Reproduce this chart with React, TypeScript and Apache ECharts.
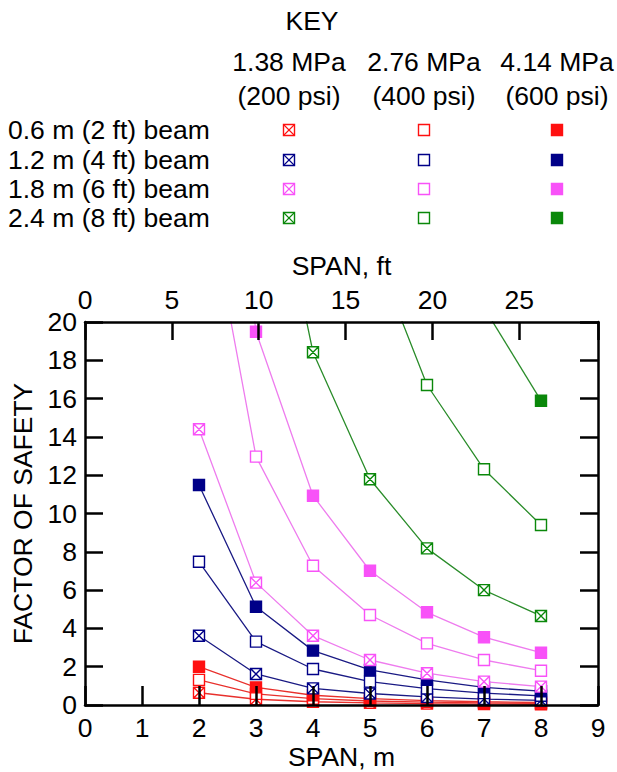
import React, { useEffect, useRef } from "react";
import * as echarts from "echarts";

// ---------- data ----------
const spansM = [2, 3, 4, 5, 6, 7, 8];
const strengthMPa = ["1.38 MPa", "2.76 MPa", "4.14 MPa"];
const strengthPsi = ["(200 psi)", "(400 psi)", "(600 psi)"];
const beamLabels = ["0.6 m (2 ft) beam", "1.2 m (4 ft) beam", "1.8 m (6 ft) beam", "2.4 m (8 ft) beam"];
const xTicksM = [0, 1, 2, 3, 4, 5, 6, 7, 8, 9];
const yTicks = [0, 2, 4, 6, 8, 10, 12, 14, 16, 18, 20];
const ftTicks = [0, 5, 10, 15, 20, 25];

// factor of safety per span (m) – nulls where the curve is not drawn
const red138 = [0.64, 0.3, 0.17, 0.11, 0.07, 0.05, 0.04];
const red276 = [1.31, 0.58, 0.33, 0.21, 0.15, 0.11, 0.08];
const red414 = [2.0, 0.92, 0.51, 0.33, 0.23, 0.17, 0.13];
const blue138 = [3.62, 1.62, 0.87, 0.6, 0.42, 0.31, 0.24];
const blue276 = [7.48, 3.31, 1.88, 1.22, 0.86, 0.62, 0.48];
const blue414 = [11.49, 5.13, 2.84, 1.83, 1.31, 0.92, 0.72];
const violet138 = [14.4, 6.39, 3.62, 2.35, 1.66, 1.22, 0.96];
const violet276 = [29.0, 12.97, 7.27, 4.7, 3.22, 2.35, 1.79];
const violet414 = [43.8, 19.49, 10.93, 7.01, 4.84, 3.54, 2.73];
const green138 = [null, 32.7, 18.42, 11.79, 8.18, 6.0, 4.65];
const green276 = [null, null, null, 24.3, 16.71, 12.31, 9.4];
const green414 = [null, null, null, null, null, 20.75, 15.89];

const seriesValues = [
  [red138, red276, red414],
  [blue138, blue276, blue414],
  [violet138, violet276, violet414],
  [green138, green276, green414],
];

// ---------- style ----------
const markerColors = ["#ff1010", "#000088", "#f852f8", "#0a880a"];
const lineColors = ["#e8302c", "#1a1a84", "#ee7cee", "#2a8c2a"];
const FONT = '"Liberation Sans", Arial, Helvetica, sans-serif';
const FS = 26.5;
const M_TO_FT = 1 / 0.3048;

const BOXX = "path://M0 0H10V10H0ZM0 0L10 10M10 0L0 10";

function symbolFor(kind: number) {
  return kind === 0 ? BOXX : "rect";
}

function legendMarker(cx: number, cy: number, kind: number, color: string) {
  const s = 11;
  const x = cx - s / 2;
  const y = cy - s / 2;
  const children: any[] = [
    {
      type: "rect",
      shape: { x, y, width: s, height: s },
      style: { fill: kind === 2 ? color : "#fff", stroke: color, lineWidth: 1.4 },
    },
  ];
  if (kind === 0) {
    children.push(
      { type: "line", shape: { x1: x, y1: y, x2: x + s, y2: y + s }, style: { stroke: color, lineWidth: 1.1 } },
      { type: "line", shape: { x1: x + s, y1: y, x2: x, y2: y + s }, style: { stroke: color, lineWidth: 1.1 } }
    );
  }
  return { type: "group", children };
}

export default function App() {
  const ref = useRef<HTMLDivElement>(null);

  useEffect(() => {
    if (!ref.current) return;
    const chart = echarts.init(ref.current, undefined, { renderer: "svg" });

    const colX = [289, 424, 557];
    const rowY = [130, 160, 189, 218];
    const txt = (text: string, x: number, y: number, align: string) => ({
      type: "text",
      x,
      y,
      style: { text, fontSize: FS, fontFamily: FONT, fill: "#000", align, verticalAlign: "middle" },
    });

    const graphic: any[] = [];
    graphic.push(txt("KEY", 312, 21, "center"));
    strengthMPa.forEach((t, i) => {
      graphic.push(txt(t, colX[i], 62, "center"));
      graphic.push(txt(strengthPsi[i], colX[i], 96, "center"));
    });
    beamLabels.forEach((t, r) => {
      graphic.push(txt(t, 8, rowY[r], "left"));
      for (let k = 0; k < 3; k++) graphic.push(legendMarker(colX[k], rowY[r], k, markerColors[r]));
    });

    const series: any[] = [];
    seriesValues.forEach((group, g) => {
      group.forEach((vals, k) => {
        const data = spansM
          .map((x, i) => [x, vals[i]])
          .filter((p) => p[1] !== null && p[1] !== undefined);
        series.push({
          type: "line",
          name: beamLabels[g] + " " + strengthMPa[k],
          data,
          xAxisIndex: 0,
          yAxisIndex: 0,
          clip: true,
          symbol: symbolFor(k),
          symbolSize: 11,
          showSymbol: true,
          lineStyle: { color: lineColors[g], width: 1.3 },
          itemStyle: {
            color: k === 2 ? markerColors[g] : "#fff",
            borderColor: markerColors[g],
            borderWidth: 1.4,
          },
          z: 2 + g,
        });
      });
    });

    const axisLine = { show: true, onZero: false, lineStyle: { color: "#000", width: 2.5 } };
    const labelStyle = { color: "#000", fontSize: FS, fontFamily: FONT, lineHeight: FS };
    const nameStyle = { color: "#000", fontSize: FS, fontFamily: FONT, lineHeight: FS };
    const tick = (length: number) => ({ show: true, inside: true, length, lineStyle: { color: "#000", width: 2.5 } });

    chart.setOption({
      animation: false,
      backgroundColor: "#fff",
      graphic,
      grid: { left: 85, right: 19, top: 322, bottom: 67, containLabel: false },
      xAxis: [
        {
          type: "value",
          position: "bottom",
          min: xTicksM[0],
          max: xTicksM[xTicksM.length - 1],
          interval: 1,
          axisLine,
          axisTick: tick(19),
          axisLabel: { ...labelStyle, margin: 10 },
          splitLine: { show: false },
          name: "SPAN, m",
          nameLocation: "middle",
          nameGap: 39,
          nameTextStyle: nameStyle,
          z: 20,
        },
        {
          type: "value",
          position: "top",
          min: 0,
          max: xTicksM[xTicksM.length - 1] * M_TO_FT,
          interval: ftTicks[1] - ftTicks[0],
          axisLine,
          axisTick: tick(18),
          axisLabel: {
            ...labelStyle,
            margin: 9,
            formatter: (v: number) => (ftTicks.indexOf(Math.round(v * 1000) / 1000) >= 0 ? String(v) : ""),
          },
          splitLine: { show: false },
          name: "SPAN, ft",
          nameLocation: "middle",
          nameGap: 43,
          nameTextStyle: nameStyle,
          z: 20,
        },
      ],
      yAxis: [
        {
          type: "value",
          position: "left",
          min: yTicks[0],
          max: yTicks[yTicks.length - 1],
          interval: 2,
          axisLine,
          axisTick: tick(18),
          axisLabel: { ...labelStyle, margin: 8 },
          splitLine: { show: false },
          name: "FACTOR OF SAFETY",
          nameLocation: "middle",
          nameGap: 40,
          nameRotate: 90,
          nameTextStyle: nameStyle,
          z: 20,
        },
        {
          type: "value",
          position: "right",
          min: yTicks[0],
          max: yTicks[yTicks.length - 1],
          interval: 2,
          axisLine,
          axisTick: tick(18),
          axisLabel: { show: false },
          splitLine: { show: false },
          z: 20,
        },
      ],
      series,
    });

    return () => chart.dispose();
  }, []);

  return <div ref={ref} style={{ position: "absolute", left: 0, top: 0, width: 617, height: 772 }} />;
}
